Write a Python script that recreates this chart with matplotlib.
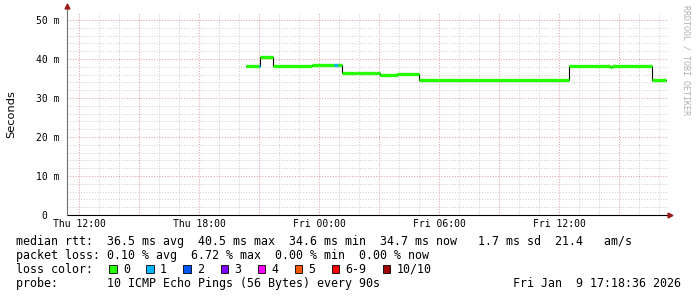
import numpy as np
import matplotlib.pyplot as plt

# Smokeping / RRDtool latency graph
t_hours = [20.33, 20.98, 21.05, 21.70, 23.63, 24.75, 24.95, 25.15, 25.80, 26.15,
           26.55, 26.85, 27.05, 27.90, 28.98, 36.52, 38.55, 38.65, 40.64, 41.33]
rtt_ms = [38.2, 38.2, 40.6, 38.2, 38.5, 38.5, 38.5, 36.3, 36.5, 36.3,
          36.5, 36.3, 36.0, 36.1, 34.6, 38.2, 37.9, 38.2, 34.6, 34.6]
loss_idx = [0, 1, 0, 0, 0, 1, 0, 0, 0, 0,
            0, 0, 0, 0, 0, 0, 0, 0, 0, 0]

loss_labels = ["0", "1", "2", "3", "4", "5", "6-9", "10/10"]
loss_colors = ["#26ff00", "#00b8ff", "#0059ff", "#7e00ff", "#ff00ff",
               "#ff5500", "#ff0000", "#a10000"]

xtick_pos = [12, 18, 24, 30, 36]
xtick_labels = ["Thu 12:00", "Thu 18:00", "Fri 00:00", "Fri 06:00", "Fri 12:00"]
ytick_pos = [0, 10, 20, 30, 40, 50]
ytick_labels = ["0  ", "10 m", "20 m", "30 m", "40 m", "50 m"]

legend_lines = [
    "median rtt:  36.5 ms avg  40.5 ms max  34.6 ms min  34.7 ms now   1.7 ms sd  21.4   am/s",
    "packet loss: 0.10 % avg  6.72 % max  0.00 % min  0.00 % now",
    "loss color:",
    "probe:       10 ICMP Echo Pings (56 Bytes) every 90s",
]
stamp = "Fri Jan  9 17:18:36 2026"

W, H = 697, 297
MONO = "DejaVu Sans Mono"

fig = plt.figure(figsize=(W / 100, H / 100), dpi=100)
fig.patch.set_facecolor("white")


def fx(x):
    return x / W


def fy(y):
    return 1 - y / H


ax = fig.add_axes([fx(67), fy(215), (668 - 67) / W, (215 - 12.2) / H])
xmin, xmax = 11.4, 41.45
ax.set_xlim(xmin, xmax)
ax.set_ylim(0, 52)
for s in ax.spines.values():
    s.set_visible(False)

# grid: minor gray, major red-ish
dots = (0, (1, 1.6))
for h in np.arange(12, 42, 1):
    c = "#e3a3a3" if h % 3 == 0 else "#cfcfcf"
    ax.axvline(h, color=c, lw=0.75, ls=dots, zorder=0)
for v in np.arange(2, 52, 2):
    c = "#e3a3a3" if v % 10 == 0 else "#cfcfcf"
    ax.axhline(v, color=c, lw=0.75, ls=dots, zorder=0)

# median line
ax.step(t_hours, rtt_ms, where="post", color="black", lw=0.8, zorder=2)
seg_colors = [loss_colors[i] for i in loss_idx[:-1]]
ax.hlines(rtt_ms[:-1], t_hours[:-1], t_hours[1:], colors=seg_colors, lw=2.4, zorder=3)

# axes with arrows
ax.plot([xmin, xmax + 0.05], [0, 0], color="black", lw=0.8, clip_on=False, zorder=4)
ax.plot([xmin, xmin], [0, 53.2], color="#707070", lw=0.8, clip_on=False, zorder=4)
ax.plot([xmax + 0.12], [0], marker=">", color="#9b1c1c", ms=3.5, clip_on=False, zorder=5)
ax.plot([xmin], [53.6], marker="^", color="#9b1c1c", ms=3.5, clip_on=False, zorder=5)

ax.set_xticks(xtick_pos)
ax.set_xticklabels(xtick_labels, family=MONO, fontsize=7)
ax.set_yticks(ytick_pos)
ax.set_yticklabels(ytick_labels, family=MONO, fontsize=7)
ax.tick_params(axis="both", length=0)
ax.tick_params(axis="x", pad=3)
ax.tick_params(axis="y", pad=5.5)

fig.text(fx(11), fy(114), "Seconds", rotation=90, ha="center", va="center",
         fontsize=8.2, family="DejaVu Sans")
fig.text(fx(686), fy(60), "RRDTOOL / TOBI OETIKER", rotation=270, ha="center",
         va="center", fontsize=6, family=MONO, color="#b0b0b0")

# legend text
line_y = [241.7, 255.2, 269.3, 283.2]
for txt, y in zip(legend_lines, line_y):
    fig.text(fx(16), fy(y), txt, ha="left", va="center", fontsize=8.4, family=MONO)
fig.text(fx(681), fy(line_y[3]), stamp, ha="right", va="center", fontsize=8.4, family=MONO)

char_w = 7.05
bx = 109.4
for lab, col in zip(loss_labels, loss_colors):
    fig.patches.append(plt.Rectangle((fx(bx), fy(line_y[2] + 4)), 7.5 / W, 8 / H,
                                     transform=fig.transFigure, facecolor=col,
                                     edgecolor="black", lw=0.6))
    fig.text(fx(bx + 13.5), fy(line_y[2]), lab, ha="left", va="center",
             fontsize=8.4, family=MONO)
    bx += 30 + char_w * len(lab)

plt.savefig("out.png", dpi=100)
